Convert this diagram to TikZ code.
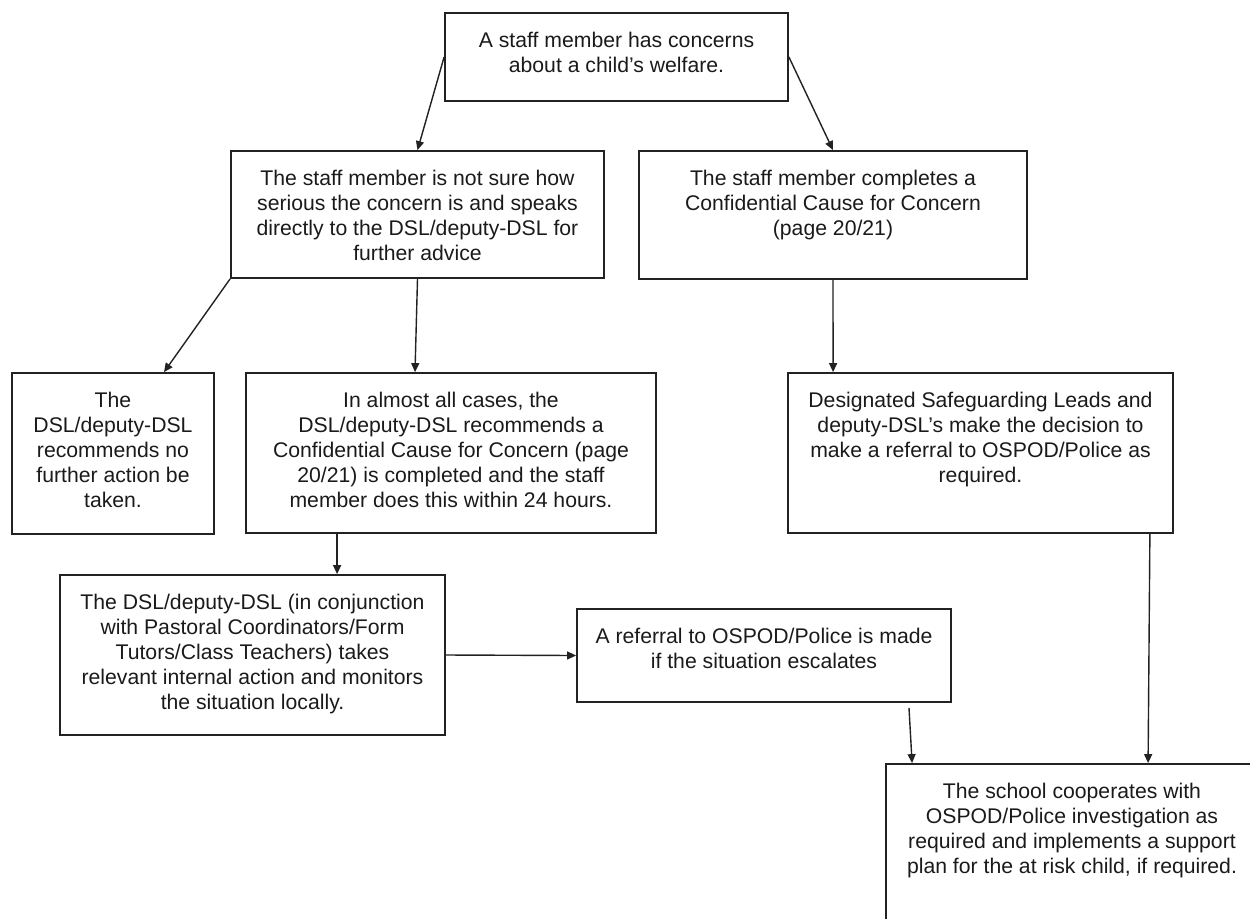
\documentclass[tikz,border=0pt]{standalone}
\usepackage{fontspec}
\setmainfont{Liberation Sans}
\usepackage{tikz}
\usetikzlibrary{positioning,calc,arrows.meta}
\definecolor{linec}{HTML}{222222}
\definecolor{textc}{HTML}{1A1A1A}

\begin{document}
\begin{tikzpicture}[x=0.5pt, y=-0.5pt,
  flowbox/.style={draw=linec, line width=0.9pt, inner sep=0pt},
  boxtext/.style={anchor=north, align=center, inner sep=0pt, text=textc,
                  font=\fontsize{10.6}{12.5}\selectfont},
  arr/.style={draw=linec, line width=0.7pt, -{Triangle[length=4.5pt, width=4pt]}}]
  \useasboundingbox (0,0) rectangle (1250,918);
  % boxes (centre x/y, width, height in px)
  \foreach \n/\x/\y/\w/\h in {top/616.5/57/343/88, unsure/417.5/214.5/373/127,
      completes/833/215/388/128, noaction/113/453.5/202/161, almostall/451/453/410/160,
      designated/980.5/453/385/160, monitor/252.5/655/385/160, escalate/764/655.5/374/93,
      cooperate/1072/844/372/160}
     \node[flowbox, minimum width=\w*0.5pt, minimum height=\h*0.5pt] (\n) at (\x,\y) {};
  % texts, hung from the top edge
  \node[boxtext] (top-txt) at ([yshift=-10pt]top.north)
     {A staff member has concerns\\about a child's welfare.};
  \node[boxtext] (unsure-txt) at ([yshift=-10pt]unsure.north)
     {The staff member is not sure how\\serious the concern is and speaks\\directly to the DSL/deputy-DSL for\\further advice};
  \node[boxtext] (completes-txt) at ([yshift=-10pt]completes.north)
     {The staff member completes a\\Confidential Cause for Concern\\(page 20/21)};
  \node[boxtext] (noaction-txt) at ([yshift=-10pt]noaction.north)
     {The\\DSL/deputy-DSL\\recommends no\\further action be\\taken.};
  \node[boxtext] (almostall-txt) at ([yshift=-10pt]almostall.north)
     {In almost all cases, the\\DSL/deputy-DSL recommends a\\Confidential Cause for Concern (page\\20/21) is completed and the staff\\member does this within 24 hours.};
  \node[boxtext] (designated-txt) at ([yshift=-10pt]designated.north)
     {Designated Safeguarding Leads and\\deputy-DSL's make the decision to\\make a referral to OSPOD/Police as\\required.};
  \node[boxtext] (monitor-txt) at ([yshift=-10pt]monitor.north)
     {The DSL/deputy-DSL (in conjunction\\with Pastoral Coordinators/Form\\Tutors/Class Teachers) takes\\relevant internal action and monitors\\the situation locally.};
  \node[boxtext] (escalate-txt) at ([yshift=-10pt]escalate.north)
     {A referral to OSPOD/Police is made\\if the situation escalates};
  \node[boxtext] (cooperate-txt) at ([yshift=-10pt]cooperate.north)
     {The school cooperates with\\OSPOD/Police investigation as\\required and implements a support\\plan for the at risk child, if required.};
  % arrows
  \draw[arr] (top.west) -- (unsure.north);
  \draw[arr] (top.east) -- (completes.north);
  \draw[arr] (unsure.south west) -- ($(noaction.north)+(51,0)$);
  \draw[arr] (unsure.south) -- ($(almostall.north)+(-36,0)$);
  \draw[arr] (completes.south) -- ($(designated.north west)+(46,0)$);
  \draw[arr] ($(almostall.south west)+(92,0)$) -- ($(monitor.north west)+(278,0)$);
  \draw[arr] (monitor.east) -- (escalate.west);
  \draw[arr] ($(escalate.south)+(145,5)$) -- ($(cooperate.north west)+(27,0)$);
  \draw[arr] ($(designated.south east)+(-24,0)$) -- ($(cooperate.north west)+(263,0)$);
\end{tikzpicture}
\end{document}
